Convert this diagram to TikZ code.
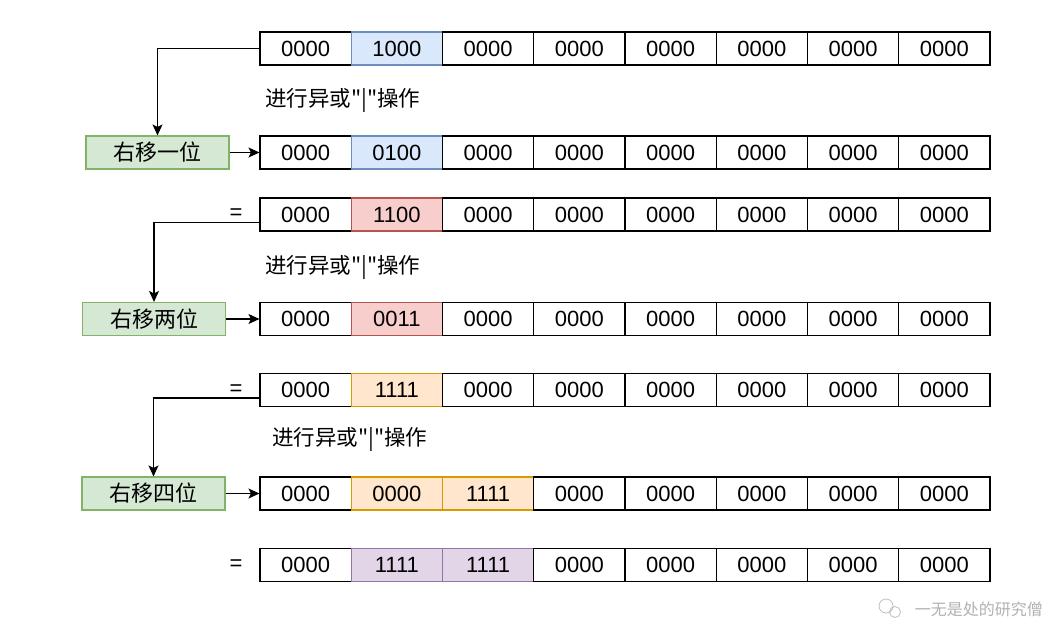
\documentclass[tikz,border=0pt]{standalone}
\usepackage{fontspec}
\setmainfont{Liberation Sans}
\newfontfamily\cjk{Noto Sans CJK SC}
\usetikzlibrary{arrows.meta,positioning}

\definecolor{bluefill}{HTML}{DAE8FC}
\definecolor{bluedraw}{HTML}{6C8EBF}
\definecolor{redfill}{HTML}{F8CECC}
\definecolor{reddraw}{HTML}{B85450}
\definecolor{orangefill}{HTML}{FFE6CC}
\definecolor{orangedraw}{HTML}{D79B00}
\definecolor{purplefill}{HTML}{E1D5E7}
\definecolor{purpledraw}{HTML}{9673A6}
\definecolor{greenfill}{HTML}{D5E8D4}
\definecolor{greendraw}{HTML}{82B366}

\begin{document}
\begin{tikzpicture}[x=1pt,y=-1pt,
  cell/.style={draw=black, fill=white, line width=1.1pt, minimum width=91.25pt,
    minimum height=33pt, inner sep=0pt, font=\fontsize{22}{26}\selectfont},
  bluecell/.style={cell, draw=bluedraw, fill=bluefill},
  redcell/.style={cell, draw=reddraw, fill=redfill},
  orangecell/.style={cell, draw=orangedraw, fill=orangefill},
  purplecell/.style={cell, draw=purpledraw, fill=purplefill},
  shiftbox/.style={draw=greendraw, fill=greenfill, line width=1.1pt, minimum width=143pt,
    minimum height=33pt, inner sep=0pt, font={\cjk\fontsize{22}{26}\selectfont}},
  optext/.style={anchor=west, inner sep=0pt, font={\cjk\fontsize{21.5}{25}\selectfont}},
  eqsign/.style={inner sep=0pt, font=\fontsize{22}{26}\selectfont},
  conn/.style={line width=1.1pt, -{Stealth[length=11pt,width=10pt,inset=2.5pt]}}]
\useasboundingbox[fill=white] (0,0) rectangle (1049,627);

% Start value
\foreach \v/\s [count=\i] in {0000/cell,1000/bluecell,0000/cell,0000/cell,0000/cell,0000/cell,0000/cell,0000/cell}
  \node[\s] (init-\i) at ({214.375+91.25*\i},48.5) {\v};

\node[optext] (opA) at (265,100) {进行异或"|"操作};

% Shift by one
\node[shiftbox] (shiftA) at (157.5,152.5) {右移一位};
\foreach \v/\s [count=\i] in {0000/cell,0100/bluecell,0000/cell,0000/cell,0000/cell,0000/cell,0000/cell,0000/cell}
  \node[\s] (shA-\i) at ({214.375+91.25*\i},152.5) {\v};

\node[eqsign] (eqA) at (236,214.5) {=};
\foreach \v/\s [count=\i] in {0000/cell,1100/redcell,0000/cell,0000/cell,0000/cell,0000/cell,0000/cell,0000/cell}
  \node[\s] (resA-\i) at ({214.375+91.25*\i},214.5) {\v};

\node[optext] (opB) at (265,267) {进行异或"|"操作};

% Shift by two
\node[shiftbox] (shiftB) at (154,319) {右移两位};
\foreach \v/\s [count=\i] in {0000/cell,0011/redcell,0000/cell,0000/cell,0000/cell,0000/cell,0000/cell,0000/cell}
  \node[\s] (shB-\i) at ({214.375+91.25*\i},319) {\v};

\node[eqsign] (eqB) at (236,390) {=};
\foreach \v/\s [count=\i] in {0000/cell,1111/orangecell,0000/cell,0000/cell,0000/cell,0000/cell,0000/cell,0000/cell}
  \node[\s] (resB-\i) at ({214.375+91.25*\i},390) {\v};

\node[optext] (opC) at (272,439) {进行异或"|"操作};

% Shift by four
\node[shiftbox] (shiftC) at (153.5,493.5) {右移四位};
\foreach \v/\s [count=\i] in {0000/cell,0000/orangecell,1111/orangecell,0000/cell,0000/cell,0000/cell,0000/cell,0000/cell}
  \node[\s] (shC-\i) at ({214.375+91.25*\i},493.5) {\v};

\node[eqsign] (eqC) at (236,565) {=};
\foreach \v/\s [count=\i] in {0000/cell,1111/purplecell,1111/purplecell,0000/cell,0000/cell,0000/cell,0000/cell,0000/cell}
  \node[\s] (resC-\i) at ({214.375+91.25*\i},565) {\v};

% Connectors
\draw[conn] (init-1.west) -| (shiftA.north);
\draw[conn] (shiftA.east) -- (shA-1.west);
\draw[conn] ([yshift=-8pt]resA-1.west) -| (shiftB.north);
\draw[conn] (shiftB.east) -- (shB-1.west);
\draw[conn] ([yshift=-8pt]resB-1.west) -| (shiftC.north);
\draw[conn] (shiftC.east) -- (shC-1.west);

% Watermark
\draw[black!25, line width=0.8pt] (886,606) circle (7pt);
\draw[black!25, line width=0.8pt] (895,612) circle (5.5pt);
\node[anchor=east, inner sep=0pt, text=black!30, font={\cjk\fontsize{16}{18}\selectfont}] (mark) at (1043,609) {一无是处的研究僧};
\end{tikzpicture}
\end{document}
